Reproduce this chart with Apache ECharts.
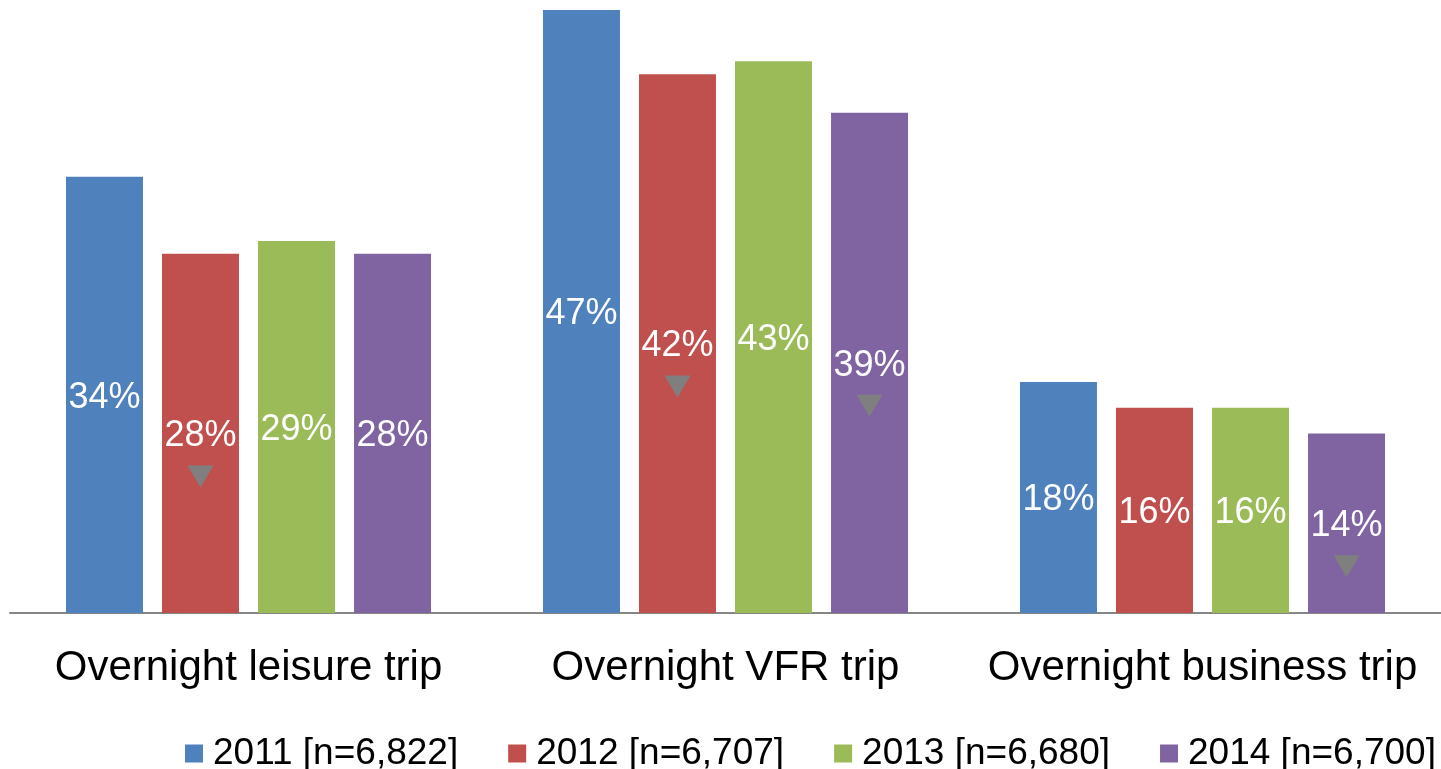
<!DOCTYPE html>
<html>
<head>
<meta charset="utf-8">
<script src="https://cdn.jsdelivr.net/npm/echarts@6/dist/echarts.min.js"></script>
<style>html,body{margin:0;padding:0;background:#fff}#c{width:1441px;height:769px}</style>
</head>
<body>
<div id="c"></div>
<script>
const categories = ['Overnight leisure trip', 'Overnight VFR trip', 'Overnight business trip'];
const seriesNames = ['2011 [n=6,822]', '2012 [n=6,707]', '2013 [n=6,680]', '2014 [n=6,700]'];
const values2011 = [34, 47, 18];
const values2012 = [28, 42, 16];
const values2013 = [29, 43, 16];
const values2014 = [28, 39, 14];
// significant decline markers (grey down-triangles)
const decline2011 = [false, false, false];
const decline2012 = [true, true, false];
const decline2013 = [false, false, false];
const decline2014 = [false, true, true];

const colors = ['#4F81BD', '#C0504D', '#9BBB59', '#8064A2'];
const allValues = [values2011, values2012, values2013, values2014];
const allDecline = [decline2011, decline2012, decline2013, decline2014];
const FONT = '"Liberation Sans", Arial, sans-serif';

const series = allValues.map((vals, si) => ({
  name: seriesNames[si],
  type: 'bar',
  data: vals,
  barWidth: 77,
  barGap: '24.7%',
  itemStyle: { color: colors[si] },
  label: {
    show: true,
    position: 'inside',
    offset: [0, 3],
    formatter: '{c}%',
    color: '#fff',
    fontSize: 36,
    fontFamily: FONT
  },
  markPoint: {
    symbol: 'triangle',
    symbolRotate: 180,
    symbolSize: [26, 22],
    symbolOffset: [0, 43],
    itemStyle: { color: '#7F7F7F' },
    label: { show: false },
    silent: true,
    animation: false,
    data: vals.map((v, i) => allDecline[si][i] ? { coord: [i, v / 2] } : null).filter(Boolean)
  }
}));

const chart = echarts.init(document.getElementById('c'));
chart.setOption({
  animation: false,
  color: colors,
  grid: { left: 10, right: 0, top: 10, bottom: 156, containLabel: false },
  legend: {
    left: 180,
    top: 730,
    width: 1261,
    icon: 'rect',
    itemWidth: 18,
    itemHeight: 18,
    itemGap: 50,
    textStyle: { fontSize: 37, color: '#000', fontFamily: FONT, padding: [0, 0, 0, 5] },
    data: seriesNames
  },
  xAxis: {
    type: 'category',
    data: categories,
    axisLine: { lineStyle: { color: '#868686', width: 2 } },
    axisTick: { show: false },
    axisLabel: { interval: 0, fontSize: 42, color: '#000', fontFamily: FONT, margin: 34 }
  },
  yAxis: {
    type: 'value',
    min: 0,
    max: 47,
    show: false,
    splitLine: { show: false }
  },
  series: series
});
</script>
</body>
</html>
